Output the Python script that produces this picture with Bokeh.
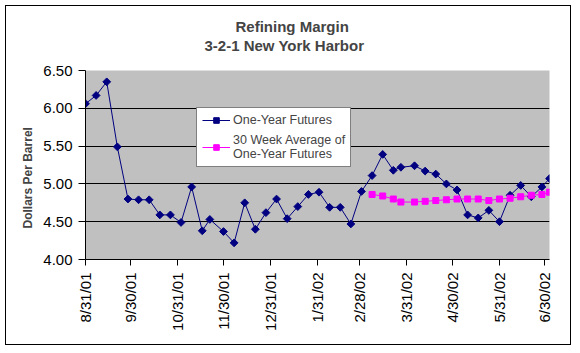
import pandas as pd
from math import pi
from bokeh.plotting import figure
from bokeh.models import (FixedTicker, Legend, LegendItem, Title, Range1d, LinearAxis,
                          NumeralTickFormatter, ColumnDataSource)
from bokeh.embed import file_html
from bokeh.resources import INLINE

# ---------------- data ----------------
dates = ["2001-08-31", "2001-09-07", "2001-09-14", "2001-09-21", "2001-09-28",
         "2001-10-05", "2001-10-12", "2001-10-19", "2001-10-26", "2001-11-02",
         "2001-11-09", "2001-11-16", "2001-11-21", "2001-11-30", "2001-12-07",
         "2001-12-14", "2001-12-21", "2001-12-28", "2002-01-04", "2002-01-11",
         "2002-01-18", "2002-01-25", "2002-02-01", "2002-02-08", "2002-02-15",
         "2002-02-22", "2002-03-01", "2002-03-08", "2002-03-15", "2002-03-22",
         "2002-03-27", "2002-04-05", "2002-04-12", "2002-04-19", "2002-04-26",
         "2002-05-03", "2002-05-10", "2002-05-17", "2002-05-24", "2002-05-31",
         "2002-06-07", "2002-06-14", "2002-06-21", "2002-06-28", "2002-07-03"]

one_year_futures = [6.06, 6.17, 6.35, 5.49, 4.80, 4.79, 4.79, 4.59, 4.59, 4.49,
                    4.96, 4.38, 4.53, 4.37, 4.22, 4.75, 4.40, 4.62, 4.80, 4.54,
                    4.70, 4.86, 4.89, 4.69, 4.69, 4.47, 4.90, 5.11, 5.39, 5.18,
                    5.22, 5.24, 5.17, 5.13, 5.00, 4.92, 4.59, 4.55, 4.65, 4.50,
                    4.85, 4.98, 4.83, 4.96, 5.07]

avg_dates = dates[27:]
avg_30_week = [4.86, 4.84, 4.80, 4.76, 4.76, 4.77, 4.78, 4.79, 4.80, 4.80,
               4.80, 4.78, 4.80, 4.81, 4.83, 4.85, 4.86, 4.89]

tick_dates = ["2001-08-31", "2001-09-30", "2001-10-31", "2001-11-30", "2001-12-31",
              "2002-01-31", "2002-02-28", "2002-03-31", "2002-04-30", "2002-05-31",
              "2002-06-30"]
tick_labels = ["8/31/01", "9/30/01", "10/31/01", "11/30/01", "12/31/01",
               "1/31/02", "2/28/02", "3/31/02", "4/30/02", "5/31/02", "6/30/02"]

y_ticks = [4.0, 4.5, 5.0, 5.5, 6.0, 6.5]

title_line1 = "Refining Margin"
title_line2 = "3-2-1 New York Harbor"
y_label = "Dollars Per Barrel"
series_names = ["One-Year Futures", "30 Week Average of\nOne-Year Futures"]

# ---------------- build ----------------
def ms(d):
    return pd.Timestamp(d).value / 1e6

x_main = [ms(d) for d in dates]
x_avg = [ms(d) for d in avg_dates]
x_ticks = [ms(d) for d in tick_dates]

FONT = "Liberation Sans"

p = figure(width=566, height=340, output_backend="svg", toolbar_location=None,
           x_range=Range1d(x_main[0], x_main[-1]), y_range=Range1d(4.0, 6.5),
           min_border_left=79, min_border_right=23, min_border_top=64,
           min_border_bottom=87)
p.styles = {"margin-left": "5px", "margin-top": "5px", "border": "1px solid black"}

p.background_fill_color = "#C0C0C0"
p.border_fill_color = "white"
p.outline_line_color = None

p.xgrid.visible = False
p.ygrid.ticker = FixedTicker(ticks=y_ticks)
p.ygrid.grid_line_color = "black"
p.ygrid.grid_line_width = 1

# y axis
p.yaxis.ticker = FixedTicker(ticks=y_ticks)
p.yaxis.formatter = NumeralTickFormatter(format="0.00")
p.yaxis.major_label_text_font = FONT
p.yaxis.major_label_text_font_size = "15px"
p.yaxis.major_label_text_color = "black"
p.yaxis.major_tick_out = 7
p.yaxis.major_tick_in = 0
p.yaxis.minor_tick_line_color = None
p.yaxis.major_label_standoff = 6
p.yaxis.axis_line_color = "black"
p.yaxis.major_tick_line_color = "black"

# x axis
p.xaxis.ticker = FixedTicker(ticks=x_ticks)
p.xaxis.major_label_overrides = {t: lab for t, lab in zip(x_ticks, tick_labels)}
p.xaxis.major_label_orientation = pi / 2
p.xaxis.major_label_text_font = FONT
p.xaxis.major_label_text_font_size = "15px"
p.xaxis.major_label_text_color = "black"
p.xaxis.major_tick_out = 6
p.xaxis.major_tick_in = 0
p.xaxis.minor_tick_line_color = None
p.xaxis.major_label_standoff = 7
p.xaxis.axis_line_color = "black"
p.xaxis.major_tick_line_color = "black"

# blank spacer axis (one white tick, no label) between plot area and title lines
spacer = LinearAxis(ticker=FixedTicker(ticks=[x_main[0]]), major_tick_out=17,
                    major_tick_in=0, minor_tick_out=0, minor_tick_in=0,
                    major_label_standoff=0, major_label_text_font_size="1px",
                    major_label_overrides={x_main[0]: ""},
                    axis_line_color=None, major_tick_line_color="white",
                    minor_tick_line_color=None)
p.add_layout(spacer, "above")

# titles
p.add_layout(Title(text=title_line2, align="left", offset=119, text_font=FONT,
                   text_font_size="15px", text_font_style="bold", standoff=0), "above")
p.add_layout(Title(text=title_line1, align="left", offset=150, text_font=FONT,
                   text_font_size="15px", text_font_style="bold", standoff=0), "above")
p.add_layout(Title(text=y_label, align="left", offset=31, text_font=FONT,
                   text_font_size="12px", text_font_style="bold", standoff=12), "left")

# series
src1 = ColumnDataSource(dict(x=x_main, y=one_year_futures))
src2 = ColumnDataSource(dict(x=x_avg, y=avg_30_week))
l1 = p.line("x", "y", source=src1, line_color="#000080", line_width=1)
s1 = p.scatter("x", "y", source=src1, marker="square", size=5.5, angle=pi / 4,
               fill_color="#000080", line_color="#000080")
l2 = p.line("x", "y", source=src2, line_color="#FF00FF", line_width=1)
s2 = p.scatter("x", "y", source=src2, marker="square", size=6,
               fill_color="#FF00FF", line_color="#FF00FF")

legend = Legend(items=[LegendItem(label=series_names[0], renderers=[l1, s1]),
                       LegendItem(label=series_names[1], renderers=[l2, s2])],
                location=(111, 92))
legend.label_text_font = FONT
legend.label_text_font_size = "12.5px"
legend.border_line_color = "black"
legend.border_line_width = 1
legend.background_fill_color = "white"
legend.background_fill_alpha = 1
legend.glyph_width = 28
legend.glyph_height = 14
legend.label_height = 14
legend.label_standoff = 3
legend.padding = 5
legend.spacing = 6
legend.margin = 0
p.add_layout(legend)

open("out.html", "w").write(file_html(p, INLINE))
